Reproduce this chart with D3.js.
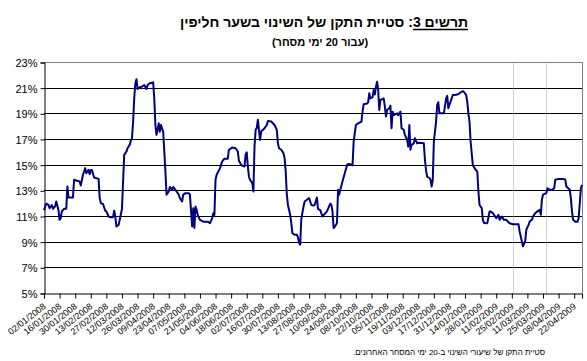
<!DOCTYPE html>
<html><head><meta charset="utf-8">
<script src="https://cdn.jsdelivr.net/npm/d3@7"></script>
<style>
body{margin:0;background:#fff}
svg{display:block}
text{font-family:Arial,"Liberation Sans",sans-serif;fill:#000}
</style>
</head><body>
<svg id="c" width="587" height="361"></svg>
<script>
const dates = [
"2008-01-02","2008-01-04","2008-01-06","2008-01-07","2008-01-09","2008-01-10","2008-01-12","2008-01-13","2008-01-15","2008-01-16","2008-01-17","2008-01-18","2008-01-20","2008-01-22","2008-01-23","2008-01-24","2008-01-28","2008-01-29","2008-01-31",
"2008-02-03","2008-02-04","2008-02-06","2008-02-08","2008-02-09","2008-02-11","2008-02-12","2008-02-13","2008-02-14","2008-02-16","2008-02-20","2008-02-21","2008-02-22","2008-02-24","2008-02-26","2008-02-27","2008-02-29",
"2008-03-01","2008-03-04","2008-03-05","2008-03-06","2008-03-07","2008-03-09","2008-03-10","2008-03-12","2008-03-13","2008-03-14","2008-03-16","2008-03-17","2008-03-19","2008-03-20","2008-03-21","2008-03-22","2008-03-23","2008-03-24","2008-03-25","2008-03-26","2008-03-28","2008-03-30",
"2008-04-01","2008-04-03","2008-04-04","2008-04-06","2008-04-09","2008-04-10","2008-04-11","2008-04-12","2008-04-13","2008-04-14","2008-04-15","2008-04-16","2008-04-18","2008-04-19","2008-04-20","2008-04-21","2008-04-23","2008-04-24","2008-04-26","2008-04-27","2008-04-29","2008-04-30",
"2008-05-02","2008-05-03","2008-05-05","2008-05-06","2008-05-08","2008-05-11","2008-05-12","2008-05-14","2008-05-15","2008-05-16","2008-05-17","2008-05-18","2008-05-19","2008-05-21","2008-05-24","2008-05-28","2008-05-30",
"2008-06-01","2008-06-02","2008-06-03","2008-06-04","2008-06-05","2008-06-08","2008-06-10","2008-06-12","2008-06-15","2008-06-16","2008-06-19","2008-06-22","2008-06-24","2008-06-25","2008-06-26","2008-06-27","2008-06-30",
"2008-07-01","2008-07-02","2008-07-03","2008-07-04","2008-07-05","2008-07-07","2008-07-08","2008-07-09","2008-07-10","2008-07-11","2008-07-12","2008-07-14","2008-07-15","2008-07-18","2008-07-20","2008-07-21","2008-07-24","2008-07-27","2008-07-29","2008-07-30","2008-07-31",
"2008-08-02","2008-08-04","2008-08-05","2008-08-06","2008-08-07","2008-08-08","2008-08-10","2008-08-11","2008-08-12","2008-08-14","2008-08-16","2008-08-17","2008-08-18","2008-08-19","2008-08-20","2008-08-22","2008-08-23","2008-08-25","2008-08-27","2008-08-29","2008-08-31",
"2008-09-01","2008-09-03","2008-09-04","2008-09-06","2008-09-08","2008-09-10","2008-09-12","2008-09-15","2008-09-16","2008-09-17","2008-09-18","2008-09-19","2008-09-21","2008-09-22","2008-09-23","2008-09-24","2008-09-26","2008-09-28","2008-09-30",
"2008-10-01","2008-10-04","2008-10-05","2008-10-06","2008-10-08","2008-10-10","2008-10-13","2008-10-14","2008-10-15","2008-10-18","2008-10-19","2008-10-20","2008-10-21","2008-10-23","2008-10-24","2008-10-25","2008-10-26","2008-10-27","2008-10-28","2008-10-29","2008-10-30","2008-10-31",
"2008-11-02","2008-11-03","2008-11-04","2008-11-05","2008-11-07","2008-11-08","2008-11-09","2008-11-10","2008-11-11","2008-11-14","2008-11-15","2008-11-17","2008-11-18","2008-11-20","2008-11-21","2008-11-23","2008-11-24","2008-11-25","2008-11-26","2008-11-27","2008-11-29","2008-11-30",
"2008-12-02","2008-12-03","2008-12-08","2008-12-09","2008-12-10","2008-12-11","2008-12-13","2008-12-14","2008-12-15","2008-12-16","2008-12-17","2008-12-19","2008-12-20","2008-12-21","2008-12-22","2008-12-24","2008-12-26","2008-12-28","2008-12-29","2008-12-30","2008-12-31",
"2009-01-01","2009-01-03","2009-01-05","2009-01-07","2009-01-09","2009-01-12","2009-01-13","2009-01-15","2009-01-16","2009-01-17","2009-01-18","2009-01-19","2009-01-21","2009-01-23","2009-01-25","2009-01-26","2009-01-27","2009-01-29","2009-01-30","2009-01-31",
"2009-02-03","2009-02-05","2009-02-06","2009-02-08","2009-02-10","2009-02-11","2009-02-13","2009-02-14","2009-02-16","2009-02-18","2009-02-20","2009-02-23","2009-02-26",
"2009-03-03","2009-03-04","2009-03-06","2009-03-07","2009-03-09","2009-03-10","2009-03-12","2009-03-13","2009-03-15","2009-03-16","2009-03-18","2009-03-20","2009-03-22","2009-03-23","2009-03-24","2009-03-25","2009-03-28","2009-03-29","2009-03-31",
"2009-04-02","2009-04-04","2009-04-05","2009-04-08","2009-04-12","2009-04-14","2009-04-15","2009-04-18","2009-04-19","2009-04-20","2009-04-21","2009-04-23","2009-04-25","2009-04-26","2009-04-28","2009-04-29"
];
const values = [
11.5,12.0,11.9,11.65,11.9,11.6,11.8,12.17,11.5,10.74,10.87,11.4,11.6,11.6,13.34,12.48,12.48,13.86,13.8,
13.73,13.42,14.25,14.77,14.37,14.63,14.3,14.63,14.63,14.04,13.93,12.43,12.04,11.97,11.45,11.4,11.0,
10.95,10.95,11.45,11.0,10.22,10.35,10.74,11.6,13.72,15.8,16.06,16.32,16.6,16.9,17.1,18.4,20.2,21.38,21.7,20.94,21.07,21.12,
21.25,20.94,21.25,21.38,21.45,20.2,18.13,17.36,17.75,18.26,17.6,18.13,17.6,16.06,14.5,12.7,12.95,13.3,13.08,13.3,13.08,12.95,
12.7,12.43,12.17,12.7,12.82,12.82,12.7,10.22,11.65,10.1,11.78,11.52,11.13,10.74,10.6,10.6,10.48,
10.87,11.26,11.13,13.86,14.25,14.77,15.3,15.5,15.5,16.2,16.37,16.32,16.06,15.33,15.2,15.0,14.9,
15.8,16.0,14.9,14.1,13.86,13.6,12.95,16.45,17.75,17.9,18.53,16.97,17.62,17.88,18.13,18.45,18.4,18.13,17.75,16.7,16.32,
16.2,15.94,15.55,14.5,12.7,11.9,11.13,10.48,9.7,9.58,9.58,9.37,8.93,8.8,10.8,11.78,12.17,12.3,12.44,11.9,11.85,
11.9,12.48,11.6,11.5,11.0,11.2,11.4,12.0,11.9,11.4,10.1,10.2,10.48,13.08,12.7,13.08,13.72,14.37,15.0,
15.1,15.05,15.0,16.84,18.13,18.26,18.4,19.17,19.75,19.8,19.9,20.6,20.2,20.3,20.86,20.5,21.1,21.5,20.9,19.3,20.1,20.1,
20.2,19.56,18.8,19.3,19.43,19.64,17.88,19.17,18.9,19.04,18.9,19.17,17.88,17.75,17.36,16.97,16.45,18.13,16.2,16.58,16.7,17.1,
16.7,16.75,16.7,15.4,14.6,14.1,14.0,13.86,13.34,13.8,16.84,18.4,19.7,19.9,19.04,19.04,19.04,20.2,20.4,19.43,19.7,
19.95,20.47,20.47,20.5,20.6,20.78,20.7,20.47,19.95,19.04,18.4,16.84,15.0,14.7,14.5,12.95,11.9,11.65,10.74,10.5,
10.48,11.39,11.39,11.26,11.0,10.87,11.13,10.74,11.0,10.74,10.74,10.48,10.4,
10.4,9.83,9.06,8.67,9.06,9.96,10.35,10.6,10.74,11.0,11.26,11.4,11.52,11.13,12.3,12.7,12.82,13.2,13.08,
13.08,13.2,13.86,13.93,13.93,13.86,13.34,13.08,12.43,11.4,10.74,10.6,10.6,10.87,13.2,13.46
];
const tickLabels = [
"02/01/2008","16/01/2008","30/01/2008","13/02/2008","27/02/2008","12/03/2008","26/03/2008","09/04/2008","23/04/2008",
"07/05/2008","21/05/2008","04/06/2008","18/06/2008","02/07/2008","16/07/2008","30/07/2008","13/08/2008","27/08/2008",
"10/09/2008","24/09/2008","08/10/2008","22/10/2008","05/11/2008","19/11/2008","03/12/2008","17/12/2008","31/12/2008",
"14/01/2009","28/01/2009","11/02/2009","25/02/2009","11/03/2009","25/03/2009","08/04/2009","22/04/2009"
];
const yTicks = [5,7,9,11,13,15,17,19,21,23];
const axisStart = "2008-01-02", axisEnd = "2009-04-29";
const markerDates = ["2009-02-26","2009-03-28"];
const titleLabel = "תרשים 3";
const titleText = "תרשים 3: סטיית התקן של השינוי בשער חליפין";
const subtitleText = "(עבור 20 ימי מסחר)";
const noteText = "סטיית התקן של שיעורי השינוי ב-20 ימי המסחר האחרונים.";

const parseISO = d3.utcParse("%Y-%m-%d");
const parseLbl = d3.utcParse("%d/%m/%Y");
const fmtLbl = d3.utcFormat("%d/%m/%Y");
const data = dates.map((d,i)=>({date:parseISO(d), v:values[i]}));

const L=44, R=582, T=62.5, B=293.5;
const svg = d3.select("#c");
const x = d3.scaleUtc().domain([parseISO(axisStart), parseISO(axisEnd)]).range([L, R]);
const y = d3.scaleLinear().domain([5,23]).range([B, T]);
const cy = v => Math.round(y(v)-0.5)+0.5;

svg.append("g").selectAll("line").data(yTicks.filter(v=>v>5 && v<23)).join("line")
  .attr("x1",L).attr("x2",R).attr("y1",cy).attr("y2",cy)
  .attr("stroke","#000").attr("stroke-width",1);
svg.append("path").attr("d",`M${L},${T}H${R+0.5}V${B}`).attr("fill","none").attr("stroke","#808080").attr("stroke-width",1);
svg.append("g").selectAll("line").data(markerDates).join("line")
  .attr("x1",d=>Math.round(x(parseISO(d)))+0.5).attr("x2",d=>Math.round(x(parseISO(d)))+0.5)
  .attr("y1",T).attr("y2",B).attr("stroke","#a0a0a0").attr("stroke-width",1).attr("stroke-dasharray","1,1");

const yAxis = d3.axisLeft(y).tickValues(yTicks).tickSize(4).tickPadding(3).tickFormat(v=>v+"%");
const gy = svg.append("g").attr("transform",`translate(${L+0.5},0)`).call(yAxis);
gy.select(".domain").attr("stroke","#000");
gy.selectAll("text").attr("font-size",11).attr("font-family","Arial, 'Liberation Sans', sans-serif").attr("dy","0.35em");

const xAxis = d3.axisBottom(x).tickValues(tickLabels.map(parseLbl)).tickSize(5).tickFormat(fmtLbl);
const gx = svg.append("g").attr("transform",`translate(0,${B})`).call(xAxis);
gx.select(".domain").attr("stroke","#000");
gx.selectAll("text").attr("font-size",9).attr("font-family","Arial, 'Liberation Sans', sans-serif")
  .attr("text-anchor","end").attr("dy",0).attr("y",0)
  .attr("transform","translate(2,14) rotate(-38)");

const line = d3.line().x(d=>x(d.date)).y(d=>y(d.v));
svg.append("path").datum(data).attr("d",line).attr("fill","none")
  .attr("stroke","#000080").attr("stroke-width",2).attr("stroke-linejoin","round");

const tcx = 324, tby = 27, tfs = 14;
const tt = svg.append("text").attr("x",tcx).attr("y",tby).attr("text-anchor","middle")
  .attr("direction","rtl").style("direction","rtl").attr("font-size",tfs).attr("font-weight","bold").text(titleText);
const W = tt.node().getComputedTextLength();
const tmp = svg.append("text").attr("font-size",tfs).attr("font-weight","bold").style("direction","rtl").text(titleLabel);
const w1 = tmp.node().getComputedTextLength(); tmp.remove();
svg.append("line").attr("x1",tcx+W/2-w1).attr("x2",tcx+W/2).attr("y1",tby+2.5).attr("y2",tby+2.5)
  .attr("stroke","#000").attr("stroke-width",1.5);

svg.append("text").attr("x",320).attr("y",46).attr("text-anchor","middle").style("direction","rtl")
  .attr("font-size",11).attr("font-weight","bold").text(subtitleText);

svg.append("text").attr("x",449).attr("y",355).attr("text-anchor","middle").style("direction","rtl")
  .attr("font-size",8).text(noteText);
</script>
</body></html>
